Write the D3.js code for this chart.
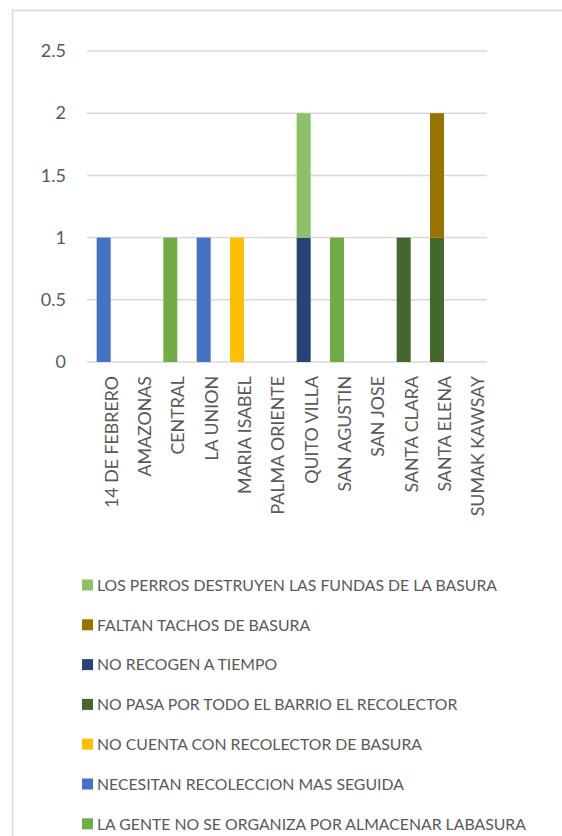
<!DOCTYPE html>
<html>
<head>
<meta charset="utf-8">
<script src="https://cdn.jsdelivr.net/npm/d3@7"></script>
<style>
  body { margin: 0; background: #fff; }
  text { font-family: Lato, "Open Sans", sans-serif; fill: #595959; }
</style>
</head>
<body>
<div id="chart"></div>
<script>
// barrios on the x axis
const barrios = ['14 DE FEBRERO', 'AMAZONAS', 'CENTRAL', 'LA UNION', 'MARIA ISABEL',
  'PALMA ORIENTE', 'QUITO VILLA', 'SAN AGUSTIN', 'SAN JOSE', 'SANTA CLARA',
  'SANTA ELENA', 'SUMAK KAWSAY'];

// series in stacking order (bottom first)
const series = [
  'LA GENTE NO SE ORGANIZA POR ALMACENAR LABASURA',
  'NECESITAN RECOLECCION MAS SEGUIDA',
  'NO CUENTA CON RECOLECTOR DE BASURA',
  'NO PASA POR TODO EL BARRIO EL RECOLECTOR',
  'NO RECOGEN A TIEMPO',
  'FALTAN TACHOS DE BASURA',
  'LOS PERROS DESTRUYEN LAS FUNDAS DE LA BASURA'
];
const colors = ['#70AD47', '#4472C4', '#FFC000', '#43682B', '#264478', '#997300', '#8CC168'];

// values per series, one per barrio
const laGente    = [0, 0, 1, 0, 0, 0, 0, 1, 0, 0, 0, 0];
const necesitan  = [1, 0, 0, 1, 0, 0, 0, 0, 0, 0, 0, 0];
const noCuenta   = [0, 0, 0, 0, 1, 0, 0, 0, 0, 0, 0, 0];
const noPasa     = [0, 0, 0, 0, 0, 0, 0, 0, 0, 1, 1, 0];
const noRecogen  = [0, 0, 0, 0, 0, 0, 1, 0, 0, 0, 0, 0];
const faltan     = [0, 0, 0, 0, 0, 0, 0, 0, 0, 0, 1, 0];
const losPerros  = [0, 0, 0, 0, 0, 0, 1, 0, 0, 0, 0, 0];

const yTicks = [0, 0.5, 1, 1.5, 2, 2.5];

const valuesBySeries = [laGente, necesitan, noCuenta, noPasa, noRecogen, faltan, losPerros];
const table = barrios.map((b, i) => {
  const row = { barrio: b };
  series.forEach((s, k) => { row[s] = valuesBySeries[k][i]; });
  return row;
});

const W = 562, H = 836;
const plot = { left: 87, right: 487, top: 51, bottom: 362 };

const svg = d3.select('#chart').append('svg')
  .attr('width', W)
  .attr('height', H);

// chart frame
svg.append('rect')
  .attr('x', 12.5).attr('y', 10.5)
  .attr('width', 700).attr('height', 900)
  .attr('fill', 'none')
  .attr('stroke', '#d9d9d9')
  .attr('stroke-width', 1.5);

const x = d3.scaleBand()
  .domain(barrios)
  .range([plot.left, plot.right])
  .paddingInner(0.58)
  .paddingOuter(0.29);

const y = d3.scaleLinear()
  .domain([0, 2.5])
  .range([plot.bottom, plot.top]);

// gridlines
svg.append('g')
  .selectAll('line')
  .data(yTicks)
  .enter()
  .append('line')
  .attr('x1', plot.left)
  .attr('x2', plot.right)
  .attr('y1', d => y(d))
  .attr('y2', d => y(d))
  .style('stroke', '#d9d9d9')
  .style('stroke-width', '1.5px');

// y tick labels
const yAxis = svg.append('g')
  .attr('transform', `translate(${plot.left - 21},0)`)
  .call(d3.axisLeft(y).tickValues(yTicks).tickSize(0).tickPadding(0).tickFormat(d3.format('')));
yAxis.select('.domain').remove();
yAxis.selectAll('text')
  .style('font-size', '18px')
  .style('font-family', 'Lato, sans-serif')
  .attr('fill', '#595959');

// stacked bars
const stack = d3.stack().keys(series);
const layers = stack(table);

svg.append('g')
  .selectAll('g')
  .data(layers)
  .enter()
  .append('g')
  .attr('fill', (d, i) => colors[i])
  .selectAll('rect')
  .data(d => d.filter(p => p[1] - p[0] > 0))
  .enter()
  .append('rect')
  .attr('x', d => x(d.data.barrio))
  .attr('width', x.bandwidth())
  .attr('y', d => y(d[1]))
  .attr('height', d => y(d[0]) - y(d[1]));

// x labels, rotated
svg.append('g')
  .selectAll('text')
  .data(barrios)
  .enter()
  .append('text')
  .attr('transform', d => `translate(${x(d) + x.bandwidth() / 2 + 14},376) rotate(-90)`)
  .attr('text-anchor', 'end')
  .style('font-size', '17.8px')
  .text(d => d);

// legend, reversed order as Excel draws it
const legendItems = series.map((s, i) => ({ name: s, color: colors[i] })).reverse();
const legend = svg.append('g')
  .selectAll('g')
  .data(legendItems)
  .enter()
  .append('g')
  .attr('transform', (d, i) => `translate(82,${585 + i * 39.8})`);

legend.append('rect')
  .attr('x', 0).attr('y', -5.5)
  .attr('width', 11).attr('height', 11)
  .attr('fill', d => d.color);

legend.append('text')
  .attr('x', 15)
  .attr('y', 0)
  .attr('dy', '0.36em')
  .style('font-size', '15.8px')
  .text(d => d.name);
</script>
</body>
</html>
